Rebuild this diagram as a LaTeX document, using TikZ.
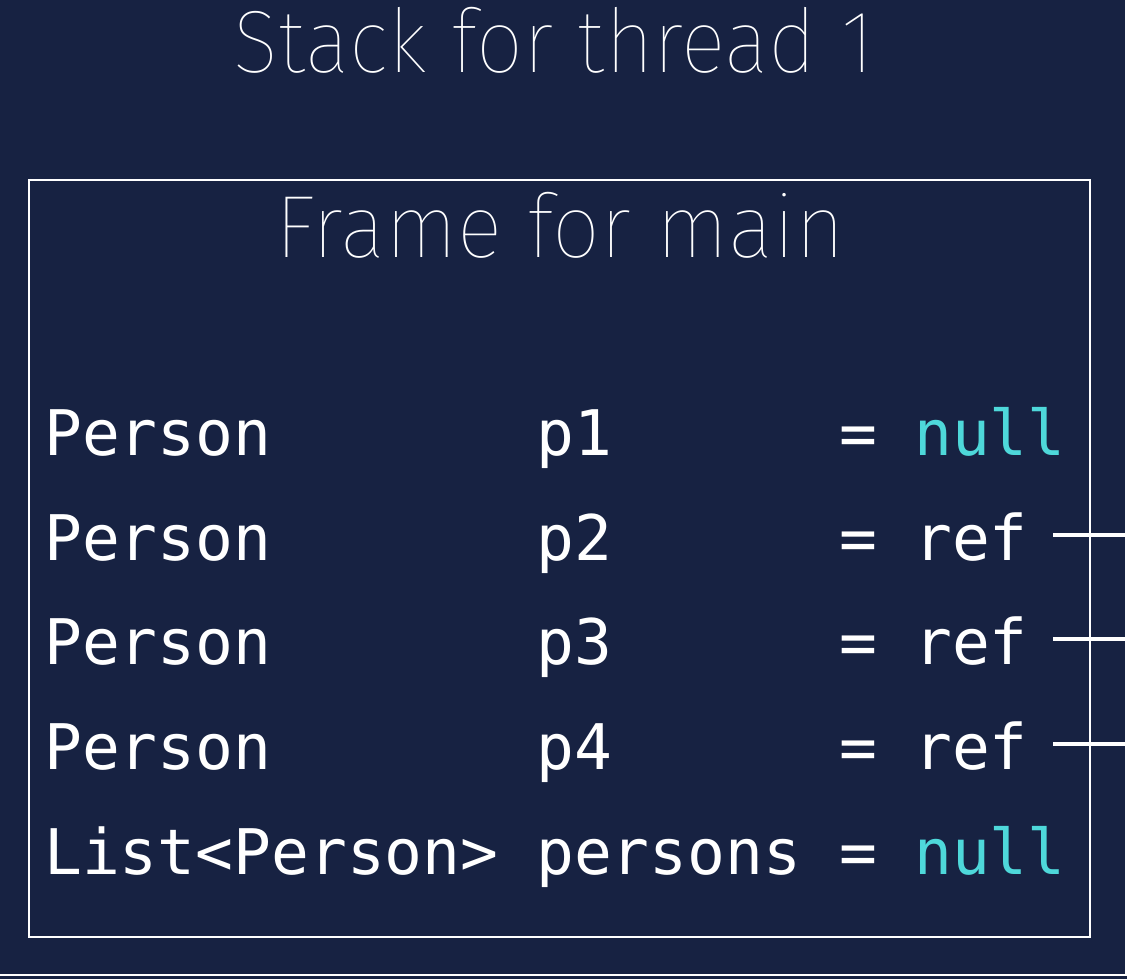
\documentclass[tikz,border=0pt]{standalone}
\usepackage{fontspec}
\usepackage{graphicx}
\setmonofont{DejaVu Sans Mono}
% lightest available sans for the headings
\IfFontExistsTF{Fira Sans Thin}{\newfontfamily\thinfont{Fira Sans Thin}}{%
 \IfFontExistsTF{Fira Sans ExtraLight}{\newfontfamily\thinfont{Fira Sans ExtraLight}}{%
  \IfFontExistsTF{Lato Hairline}{\newfontfamily\thinfont{Lato Hairline}}{%
   \IfFontExistsTF{Poppins Thin}{\newfontfamily\thinfont{Poppins Thin}}{%
    \IfFontExistsTF{Fira Sans Light}{\newfontfamily\thinfont{Fira Sans Light}}{%
     \IfFontExistsTF{Lato Light}{\newfontfamily\thinfont{Lato Light}}{%
      \newfontfamily\thinfont{Open Sans}}}}}}}
\usetikzlibrary{calc}

\definecolor{navy}{RGB}{23,34,66}
\definecolor{nullcyan}{RGB}{78,216,218}

\tikzset{
  heading/.style={text=white, inner sep=0pt, anchor=base,
    font=\thinfont\fontsize{88.5pt}{96pt}\selectfont},
  code/.style={text=white, inner sep=0pt, anchor=base west,
    font=\ttfamily\fontsize{62.9pt}{70pt}\selectfont},
  framebox/.style={draw=white, line width=2.5pt},
  outerbox/.style={draw=white, line width=2pt},
  refline/.style={draw=white, line width=4.5pt},
}
\newcommand{\nullval}{\textcolor{nullcyan}{null}}
\newcommand{\narrow}[2]{\scalebox{#1}[1]{#2}}

\begin{document}
\begin{tikzpicture}[x=1pt, y=-1pt]
  % canvas
  \fill[navy] (0,0) rectangle (1127,979);
  \useasboundingbox (0,0) rectangle (1127,979);

  % outer stack border (right and bottom edges)
  \draw[outerbox] (-10,975) -- (1126,975) -- (1126,-10);

  % stack title
  \node[heading] (stack) at (554,73) {\narrow{0.944}{Stack for thread 1}};

  % frame for main
  \draw[framebox] (29,180) rectangle (1090,937);
  \node[heading] (frame) at (560,257) {\narrow{0.962}{Frame for main}};

  % local variables: type, name, '=', value
  \foreach \y/\t/\n/\v [count=\i] in {
      455/Person/p1/\nullval,
      560/Person/p2/ref,
      664/Person/p3/ref,
      769/Person/p4/ref,
      874/List<Person>/persons/\nullval} {
    \node[code] (t\i) at (44,\y) {\t};
    \node[code] (n\i) at (536,\y) {\n};
    \node[code] (e\i) at (839,\y) {=};
    \node[code] (v\i) at (914,\y) {\v};
  }

  % references leaving the frame
  \coordinate (edge) at (1135,0);
  \foreach \i in {2,3,4} {
    \coordinate (s\i) at ([xshift=25pt, yshift=25pt]v\i.base east);
    \draw[refline] (s\i) -- (s\i -| edge);
  }
\end{tikzpicture}
\end{document}
